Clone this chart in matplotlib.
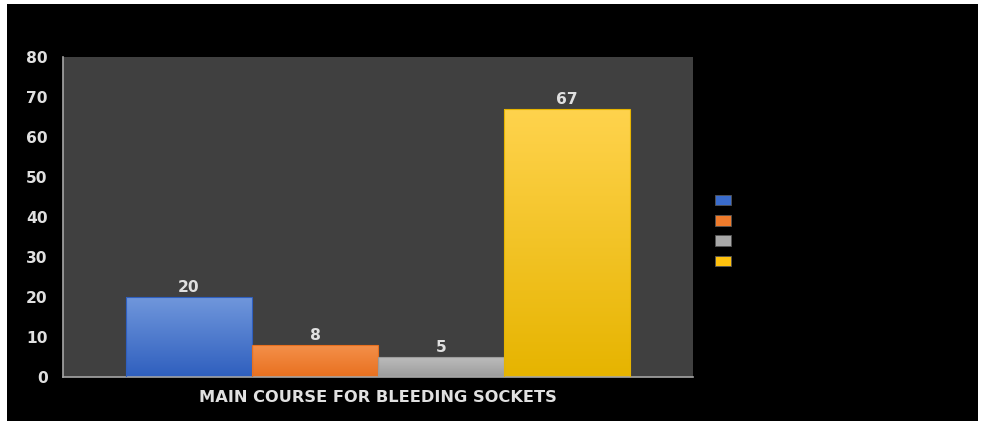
import matplotlib
matplotlib.use("Agg")
import matplotlib.pyplot as plt
import numpy as np
from matplotlib.patches import Rectangle
from matplotlib.colors import LinearSegmentedColormap

plt.rcParams['font.family'] = ['DejaVu Sans']

category = "MAIN COURSE FOR BLEEDING SOCKETS"
series_labels = ["", "", "", ""]
values = [20, 8, 5, 67]
top_colors = ["#7097dc", "#f4904a", "#bcbcbc", "#ffd34d"]
bot_colors = ["#2f5fbe", "#e8701f", "#9c9c9c", "#e6b400"]
legend_colors = ["#3a6ccc", "#ef7b2c", "#a8a8a8", "#ffc20e"]

FS = 11.2
TXT = "#e0e0e0"

W, H = 981, 421
fig = plt.figure(figsize=(W / 100, H / 100), dpi=100, facecolor="white")
# black chart area
fig.patches.append(Rectangle((7 / W, 0), (978 - 7) / W, (H - 4) / H,
                             transform=fig.transFigure, facecolor="black",
                             edgecolor="none", zorder=-10))

ax = fig.add_axes([63 / W, (H - 377) / H, 630 / W, 320 / H])
ax.set_zorder(1)
ax.set_facecolor("#404040")
ax.set_xlim(-0.5, 0.5)
ax.set_ylim(0, 80)
ax.set_yticks(range(0, 81, 10))
ax.tick_params(axis="y", length=0, pad=11, labelsize=FS, labelcolor=TXT)
for t in ax.get_yticklabels():
    t.set_fontweight("bold")
ax.set_xticks([])
for s in ["top", "right"]:
    ax.spines[s].set_visible(False)
for s in ["left", "bottom"]:
    ax.spines[s].set_color("#a6a6a6")
    ax.spines[s].set_linewidth(1.2)

n = len(values)
group_w = 0.8
bw = group_w / n
handles = []
for i, v in enumerate(values):
    x0 = -group_w / 2 + i * bw
    cmap = LinearSegmentedColormap.from_list("g", [bot_colors[i], top_colors[i]])
    grad = np.linspace(0, 1, 256).reshape(-1, 1)
    rect = Rectangle((x0, 0), bw, v, facecolor="none", edgecolor="none")
    ax.add_patch(rect)
    im = ax.imshow(grad, cmap=cmap, origin="lower", aspect="auto",
                   extent=[x0, x0 + bw, 0, v], zorder=2)
    im.set_clip_path(rect)
    ax.add_patch(Rectangle((x0, 0), bw, v, facecolor="none",
                           edgecolor=bot_colors[i], linewidth=0.8, zorder=3))
    ax.text(x0 + bw / 2, v + 0.6, str(v), ha="center", va="bottom",
            fontsize=FS, color=TXT, fontweight="bold", zorder=4)
    handles.append(Rectangle((0, 0), 1, 1, facecolor=legend_colors[i],
                             edgecolor="#555555", linewidth=0.6,
                             label=series_labels[i]))
ax.set_xlim(-0.5, 0.5)
ax.set_ylim(0, 80)

ax.set_xlabel(category, fontsize=11.7, color=TXT, fontweight="bold",
              labelpad=9)

leg = fig.legend(handles=handles, loc="upper left",
                 bbox_to_anchor=(708 / W, 1 - 187 / H),
                 frameon=False, handlelength=1.15, handleheight=0.8,
                 labelspacing=0.45, fontsize=10, borderpad=0, handletextpad=0.5)

fig.savefig("out.png", dpi=100, facecolor=fig.get_facecolor())
